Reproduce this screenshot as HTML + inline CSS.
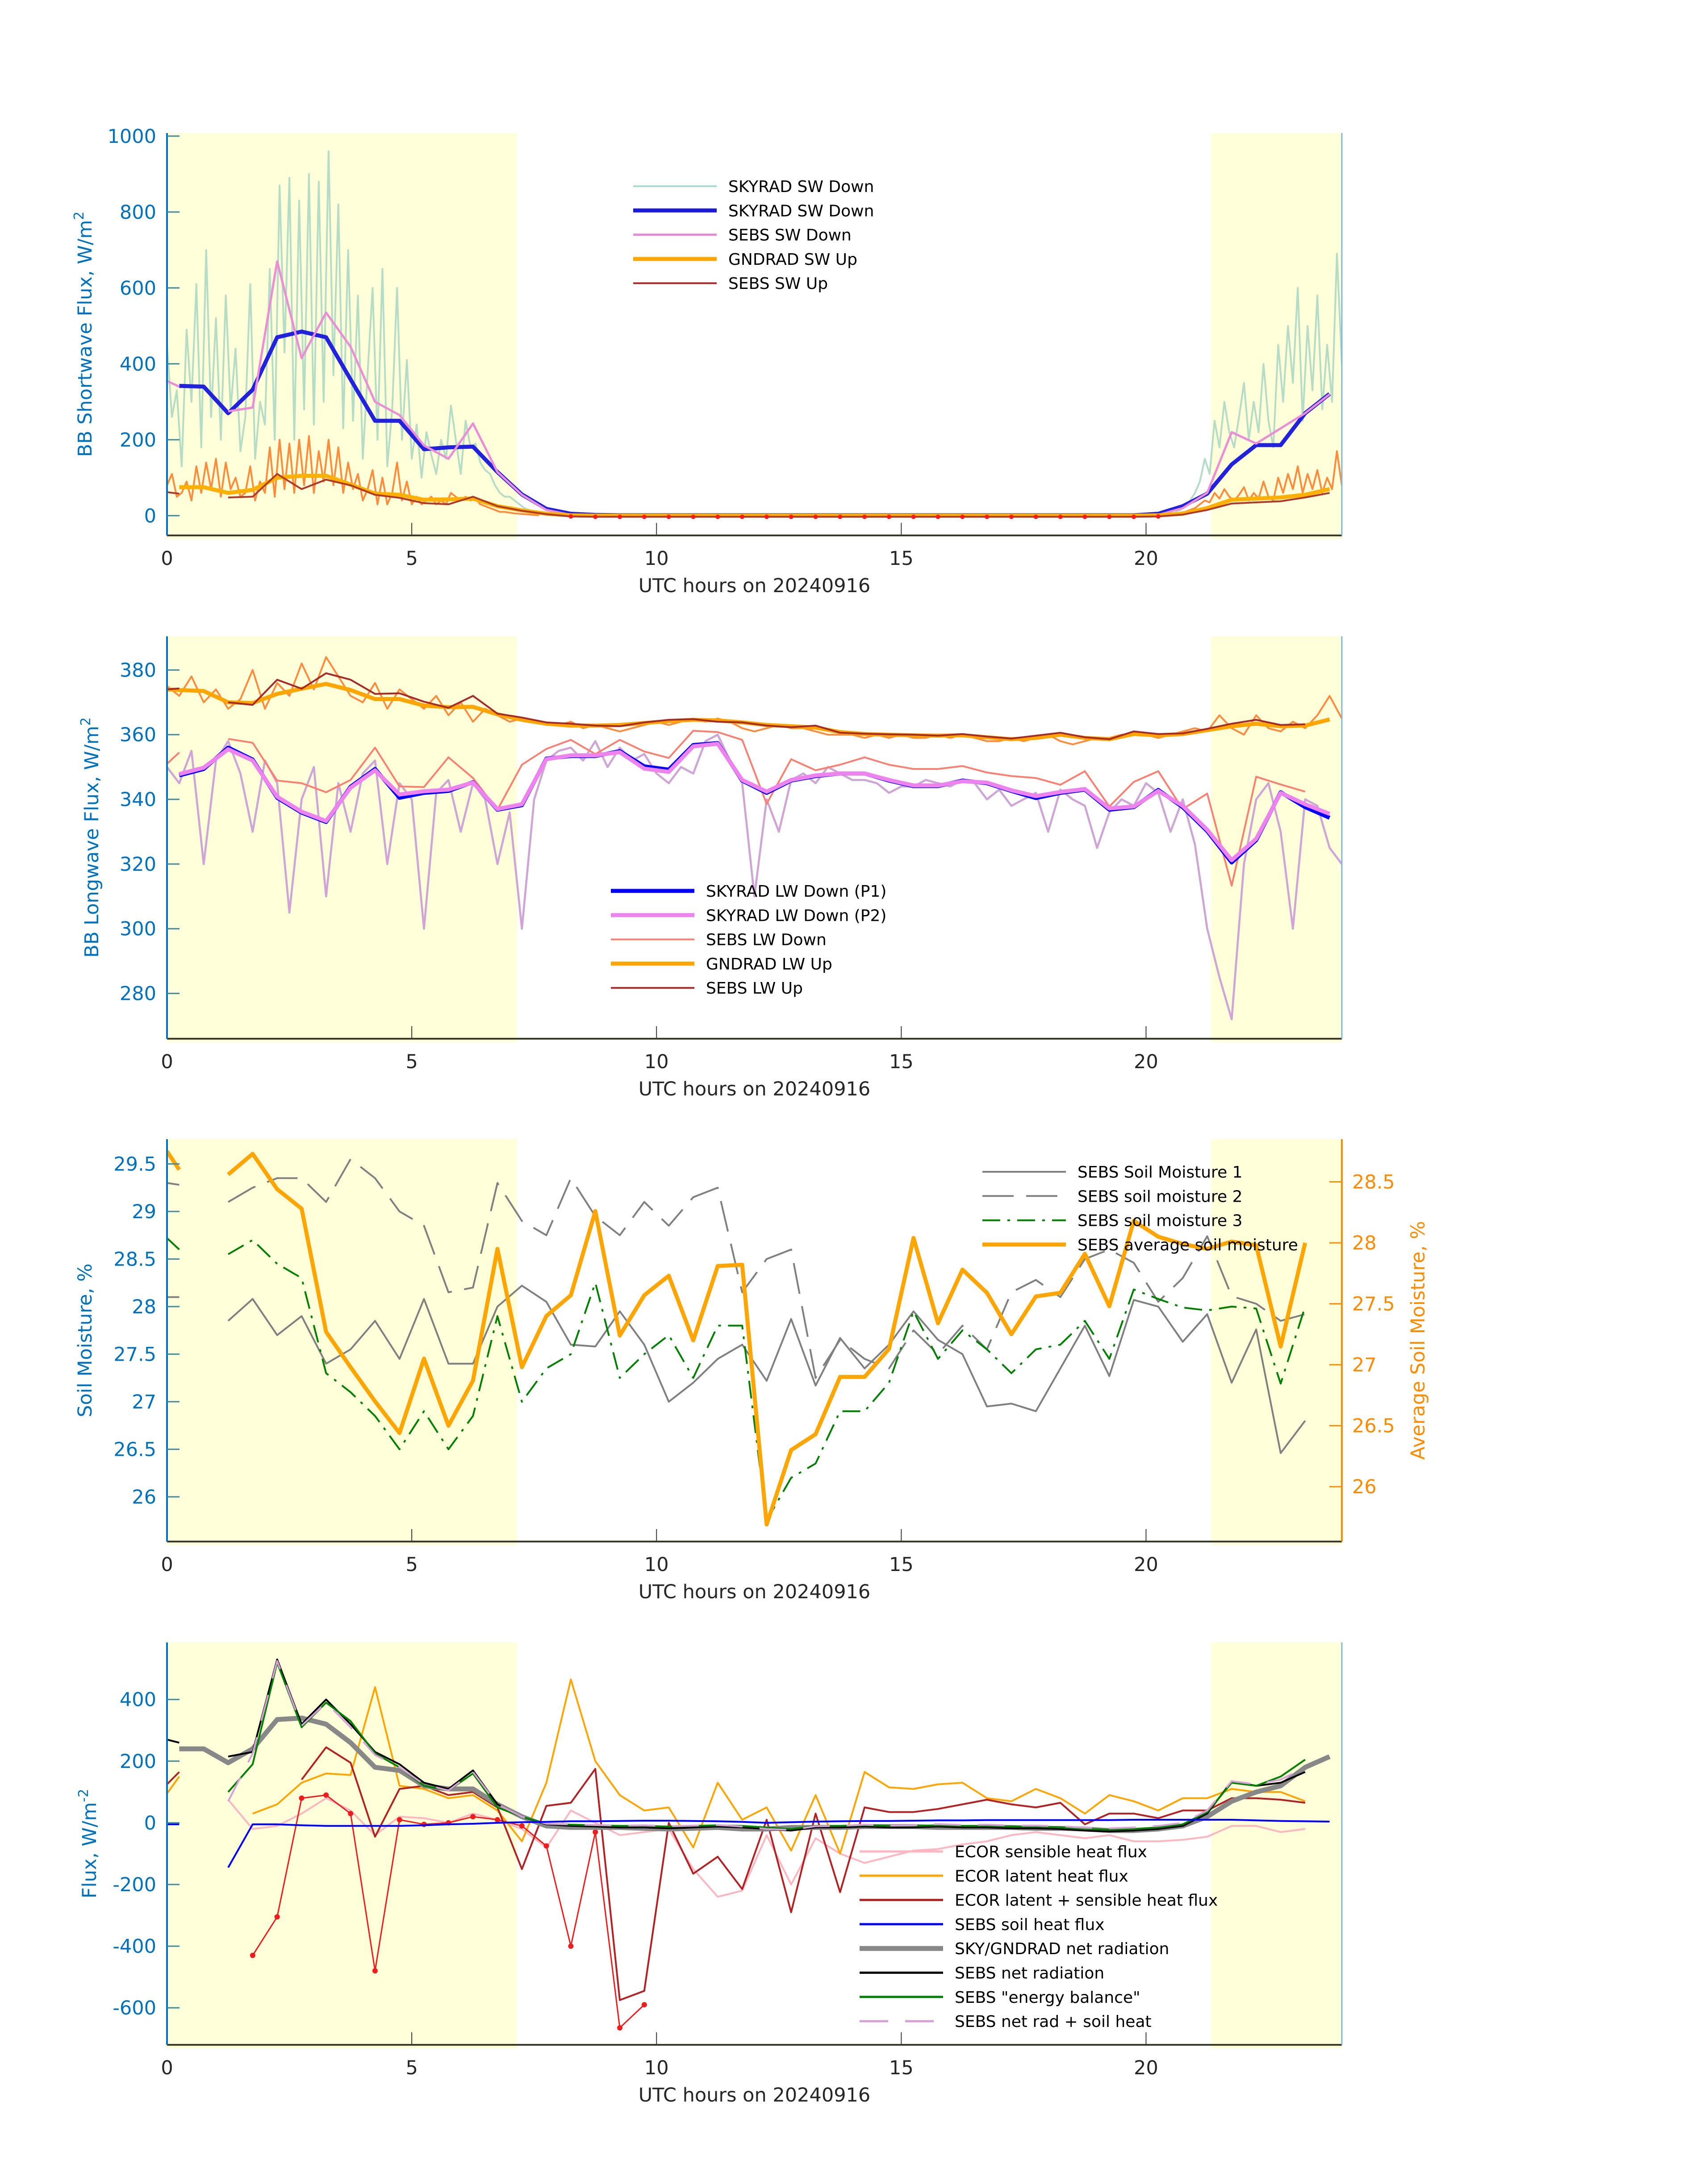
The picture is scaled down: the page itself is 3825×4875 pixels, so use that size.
<!DOCTYPE html>
<html><head><meta charset="utf-8">
<style>
html,body{margin:0;padding:0;background:#fff;}
svg{display:block;font-family:"DejaVu Sans","Liberation Sans",sans-serif;}
</style></head>
<body>
<svg id="fig" xmlns="http://www.w3.org/2000/svg" width="3825" height="4875" viewBox="0 0 3825 4875">
<rect x="0" y="0" width="3825" height="4875" fill="#ffffff"/>
</svg>
<script>
// ---------- shared time grid (hours) ----------
const HT = [0,0.25,0.75,1.25,1.75,2.25,2.75,3.25,3.75,4.25,4.75,5.25,5.75,6.25,6.75,7.25,7.75,8.25,8.75,9.25,9.75,10.25,10.75,11.25,11.75,12.25,12.75,13.25,13.75,14.25,14.75,15.25,15.75,16.25,16.75,17.25,17.75,18.25,18.75,19.25,19.75,20.25,20.75,21.25,21.75,22.25,22.75,23.25,23.75];
const X_TICKS = [0,5,10,15,20];
const X_TICK_LABELS = ["0","5","10","15","20"];
const DAY_SHADE = [[0,7.15],[21.33,24]];

// ---------- Panel 1: shortwave ----------
const P1_TICKS = [0,200,400,600,800,1000];
const swDown = [null,342,340,270,332,470,485,470,359,250,250,175,180,182,115,56,18,5,2,1,1,1,1,1,1,1,1,1,1,1,1,1,1,1,1,1,1,1,1,1,1,5,25,58,135,186,186,270,321];
const sebsSwDown = [355,340,null,275,285,670,415,535,445,300,265,185,150,243,115,55,15,2,1,1,1,1,1,1,1,1,1,1,1,1,1,1,1,1,1,1,1,1,1,1,1,2,20,60,220,190,230,270,320];
const gndSwUp = [null,75,75,60,68,100,105,105,82,58,55,42,43,45,25,14,5,1,0,0,0,0,0,0,0,0,0,0,0,0,0,0,0,0,0,0,0,0,0,0,0,1,5,20,42,45,48,55,70];
const sebsSwUp = [62,58,null,48,50,110,70,95,80,55,47,33,30,50,25,13,4,-2,-3,-3,-3,-3,-3,-3,-3,-3,-3,-3,-3,-3,-3,-3,-3,-3,-3,-3,-3,-3,-3,-3,-3,-2,3,15,32,35,38,48,60];
const hiSwEarly = [450,260,330,130,490,300,610,180,700,260,
 520,200,580,280,440,170,260,610,150,300,
 240,650,200,870,430,890,200,830,280,900,
 240,880,300,960,370,820,230,700,250,580,
 150,380,600,200,650,130,280,600,200,410,
 150,240,100,220,160,110,200,150,290,200,
 110,250,180,190,140,120,110,80,60,50,
 50,40,30,20,15,10,5];
const hiSwLate = [10,15,25,40,60,90,150,110,250,180,300,220,180,260,350,200,300,220,400,250,180,450,300,500,350,600,250,500,330,580,280,450,300,690,400];
const hiUpEarly = [80,110,50,60,90,40,130,60,140,70,
 150,50,140,70,100,50,60,130,40,90,
 60,180,50,200,70,190,60,200,80,210,
 60,170,90,200,80,180,60,140,70,110,
 40,70,120,30,100,30,60,140,40,90,
 30,50,30,40,50,30,40,30,60,50,
 40,50,40,45,30,25,20,15,10,10,
 8,6,5,4,3,2,1];
const hiUpLate = [5,8,10,15,20,30,40,35,60,45,70,50,40,55,75,40,60,45,90,50,40,100,60,110,70,130,60,110,70,120,60,100,70,170,80];
const hiEarlyT = hiSwEarly.map((v,i)=>i*0.1);
const hiLateT = hiSwLate.map((v,i)=>20.6+i*0.1);

// ---------- Panel 2: longwave ----------
const P2_TICKS = [280,300,320,340,360,380];
const lwP1 = [null,347.4,349.4,356,352.3,340.5,335.9,333,343.9,349.4,340.5,342,342.6,345.3,336.8,338.2,352.6,353.4,353.4,354.9,350.2,349.2,356.8,357.4,345.8,342,345.8,347.2,348,348,345.8,344.1,344.1,345.8,345,342.6,340.4,342,343,336.8,337.6,342.9,337.6,330.2,320.5,327.4,342.2,337.6,334.3];
const lwP2 = [null,347.8,349.8,355.5,352,340.8,336.2,333.3,343.6,349,341.5,342.5,343,345.2,337,338.5,352.4,353.6,353.6,354.6,349.5,348.5,356.4,357.2,346,342.4,346,347.4,348,348,346,344.3,344.3,345.6,345.2,342.8,341,342.3,343.2,337.2,337.8,342.6,338,330.6,321.2,327.8,342,338.5,335.5];
const sebsLwDown = [351,354.5,null,358.7,357.5,345.8,345,342.2,346,356,344,343.8,353,346.6,336.8,350.7,355.6,358.4,354,358.4,354.8,352.8,361.2,360.8,358.4,338.6,352.4,349,350.7,353,350.7,349.4,349.4,350.3,348.3,347.2,346.6,344.5,348.7,337.8,345.4,348.7,337,341.8,313.3,347,344.6,342.4,null];
const gndLwUp = [374,373.8,373.5,370,369.8,372.6,374.2,375.7,373.8,371,371,369,368.5,368.6,366.3,364.6,363.4,362.8,362.8,363,363.6,364.2,364.6,364.4,363.8,363,362.6,362.2,360.8,360.2,360,359.8,359.7,359.8,359.2,358.6,359,360,359,358.6,360.2,359.8,360.2,361.4,362.6,363.4,362.6,362.8,364.7];
const sebsLwUp = [374,374.3,null,370,369.2,377,374.2,379,377,372.6,372.8,370.2,368.3,372,366.5,365.3,363.8,363.4,362.8,362.6,363.8,364.6,364.8,364,363.8,362.8,362.3,362.8,360.6,360.3,360.1,360,359.7,360.2,359.4,358.8,359.7,360.6,359.2,358.6,361,360.2,360.4,361.8,363.4,364.6,363,363.2,null];
const hiLwDown = [350,345,355,320,352,358,348,330,352,345,305,340,350,310,345,330,
 348,352,320,345,340,300,342,346,330,345,340,320,336,300,340,352,
 355,356,352,358,350,356,352,354,348,345,350,348,358,360,352,345,
 310,340,330,346,348,345,350,348,346,346,345,342,344,344,346,345,
 344,346,345,340,343,338,340,342,330,343,340,338,325,336,340,338,
 345,342,330,340,326,300,285,272,320,340,345,330,300,340,338,325,
 320];
const hiLwUp = [375,372,378,370,374,368,371,380,368,376,372,382,374,384,378,372,
 370,376,368,374,371,368,372,366,370,364,368,366,364,365,364,363,
 363,364,362,363,362,361,362,363,364,363,364,365,364,365,364,362,
 361,362,363,362,362,361,360,360,360,359,360,359,360,359,359,360,
 359,360,359,358,358,359,358,359,360,358,357,358,359,359,360,360,
 360,359,360,361,362,361,366,362,360,366,362,361,364,362,366,372,
 365];
const hiLwT = hiLwDown.map((v,i)=>i*0.25);

// ---------- Panel 3: soil moisture ----------
const P3_TICKS = [26,26.5,27,27.5,28,28.5,29,29.5];
const P3_TICK_LABELS = ["26","26.5","27","27.5","28","28.5","29","29.5"];
const P3R_TICKS = [26,26.5,27,27.5,28,28.5];
const P3R_TICK_LABELS = ["26","26.5","27","27.5","28","28.5"];
const sm1 = [28.1,28.1,null,27.85,28.08,27.7,27.9,27.4,27.55,27.85,27.45,28.08,27.4,27.4,28.0,28.22,28.05,27.6,27.58,27.95,27.6,27.0,27.2,27.45,27.6,27.22,27.87,27.17,27.67,27.35,27.6,27.95,27.65,27.5,26.95,26.98,26.9,27.35,27.8,27.27,28.07,28.0,27.63,27.92,27.2,27.76,26.46,26.8,null];
const sm2 = [29.3,29.28,null,29.1,29.25,29.35,29.35,29.1,29.55,29.35,29.0,28.85,28.15,28.2,29.3,28.9,28.75,29.35,28.95,28.75,29.1,28.85,29.15,29.25,28.15,28.5,28.6,27.25,27.65,27.45,27.35,27.75,27.5,27.8,27.55,28.15,28.28,28.1,28.5,28.6,28.46,28.05,28.3,28.74,28.11,28.03,27.85,27.92,null];
const sm3 = [28.72,28.6,null,28.55,28.7,28.45,28.3,27.3,27.1,26.85,26.5,26.9,26.5,26.85,27.9,27.0,27.35,27.5,28.25,27.25,27.5,27.7,27.25,27.8,27.8,25.75,26.2,26.35,26.9,26.9,27.2,27.95,27.45,27.75,27.55,27.3,27.55,27.6,27.85,27.45,28.18,28.08,27.99,27.96,28.0,27.98,27.19,28.0,null];
const smAvg = [28.75,28.6,null,28.56,28.73,28.44,28.28,27.27,26.98,26.7,26.44,27.05,26.5,26.87,27.95,26.98,27.4,27.57,28.26,27.24,27.57,27.73,27.2,27.81,27.82,25.69,26.3,26.43,26.9,26.9,27.13,28.04,27.34,27.78,27.59,27.25,27.56,27.59,27.91,27.48,28.18,28.05,27.99,27.95,28.01,27.98,27.15,28.0,null];

// ---------- Panel 4: fluxes ----------
const P4_TICKS = [-600,-400,-200,0,200,400];
const sensHeat = [null,null,null,75,-20,-10,30,80,40,-40,20,15,0,30,10,-20,-80,40,0,-40,-30,-20,-150,-240,-220,-40,-200,-50,-100,-130,-110,-90,-85,-70,-60,-40,-30,-40,-50,-40,-60,-60,-55,-45,-10,-10,-30,-20,null];
const latHeat = [95,150,null,null,30,60,130,160,155,440,120,110,80,90,40,-60,130,465,200,90,40,50,-80,130,10,50,-90,90,-100,165,115,110,125,130,80,70,110,80,30,90,70,40,80,80,110,100,100,70,null];
const latSens = [125,165,null,null,null,null,140,245,195,-45,110,120,90,100,50,-150,55,65,175,-575,-545,0,-165,-110,-215,10,-290,30,-225,50,35,35,45,60,75,60,50,65,-5,30,30,15,40,40,80,80,75,65,null];
const residual = [null,null,null,null,-430,-305,80,90,30,-480,10,-5,0,20,10,-10,-75,-400,-30,-665,-590,null,null,null,null,null,null,null,null,null,null,null,null,null,null,null,null,null,null,null,null,null,null,null,null,null,null,null,null];
const soilHeat = [-5,-5,null,-145,-5,-5,-8,-10,-10,-10,-10,-8,-5,-3,0,2,3,5,5,6,7,7,6,5,3,0,2,4,5,6,6,7,8,8,9,9,9,9,9,9,10,10,10,10,10,8,6,5,4];
const netRadSky = [null,240,240,195,240,335,340,320,260,180,170,120,110,110,60,20,-10,-15,-15,-15,-18,-20,-18,-15,-20,-20,-15,-15,-15,-12,-12,-12,-15,-15,-15,-15,-18,-18,-20,-25,-25,-20,-10,20,70,100,120,180,215];
const netRadSebs = [270,260,null,215,230,530,320,400,320,230,190,130,110,170,60,20,-5,-10,-12,-15,-15,-18,-15,-12,-15,-20,-25,-15,-15,-12,-15,-15,-12,-15,-15,-18,-18,-20,-25,-28,-25,-20,-10,30,135,120,130,165,null];
const energyBal = [null,null,null,100,190,520,310,390,330,225,180,120,105,160,50,20,-3,-6,-8,-10,-10,-12,-10,-8,-10,-15,-20,-10,-10,-8,-10,-10,-8,-10,-10,-12,-12,-15,-20,-22,-20,-15,-5,35,130,120,150,205,null];
const netRadSoil = [null,null,null,70,225,525,315,390,310,220,180,125,105,165,60,20,-3,-5,-7,-9,-8,-11,-9,-7,-12,-20,-23,-11,-10,-6,-9,-8,-4,-7,-6,-9,-9,-11,-16,-18,-15,-10,0,40,135,125,140,180,null];

// ---------- layout ----------
const SVGNS = "http://www.w3.org/2000/svg";
const svg = document.getElementById('fig');
const AX_L = 374, AX_R = 3005, AX_W = AX_R - AX_L, AX_H = 901;
const TOPS = [298, 1425, 2551, 3678];
function mk(tag, attrs, parent){
  const e = document.createElementNS(SVGNS, tag);
  for (const k in attrs) e.setAttribute(k, attrs[k]);
  (parent || svg).appendChild(e);
  return e;
}
function xScale(t){ return AX_L + t/24*AX_W; }
function yScaleFor(top, lo, hi){ return v => top + (hi - v)/(hi - lo)*AX_H; }
function pathD(ts, vs, ys){
  let d = "", pen = false;
  for (let i=0;i<ts.length;i++){
    const v = vs[i];
    if (v === null || v === undefined){ pen = false; continue; }
    d += (pen ? "L" : "M") + xScale(ts[i]).toFixed(1) + " " + ys(v).toFixed(1) + " ";
    pen = true;
  }
  return d;
}
function series(g, name, ts, vs, ys, stroke, w, extra){
  const p = mk('path', Object.assign({d: pathD(ts, vs, ys), fill:'none', stroke: stroke, 'stroke-width': w, 'stroke-linejoin':'round'}, extra||{}), g);
  
  
  return p;
}
function panelBase(idx, name){
  const top = TOPS[idx];
  const g = mk('g', {});
  
  
  const clip = mk('clipPath', {id:'clip'+idx}, g);
  mk('rect', {x:AX_L, y:top, width:AX_W, height:AX_H}, clip);
  DAY_SHADE.forEach(s => {
    const r = mk('rect', {x:xScale(s[0]), y:top, width:xScale(s[1])-xScale(s[0]), height:AX_H+8, fill:'#ffffd9'}, g);
    
    
  });
  const data = mk('g', {'clip-path':'url(#clip'+idx+')'}, g);
  
  
  return {g, data, top};
}
function axes(P, ticks, labels, ys, leftColor, rightColor, ylabel, ylabelX){
  const g = P.g, top = P.top, bot = top + AX_H;
  // bottom spine & x ticks
  const xa = mk('line', {x1:AX_L, y1:bot, x2:AX_R, y2:bot, stroke:'#3a3a2a', 'stroke-width':4}, g);
  
  
  X_TICKS.forEach((t,i) => {
    mk('line', {x1:xScale(t), y1:bot, x2:xScale(t), y2:bot-28, stroke:'#3a3a3a', 'stroke-width':2}, g);
    const tl = mk('text', {x:xScale(t), y:bot+66, 'text-anchor':'middle', 'font-size':43, fill:'#262626'}, g);
    tl.textContent = X_TICK_LABELS[i];
    
    
  });
  const xl = mk('text', {x:(AX_L+AX_R)/2, y:bot+127, 'text-anchor':'middle', 'font-size':43, fill:'#262626'}, g);
  xl.textContent = 'UTC hours on 20240916';
  
  
  // left spine & ticks
  const ya = mk('line', {x1:AX_L, y1:top, x2:AX_L, y2:bot, stroke:leftColor, 'stroke-width':4}, g);
  
  
  ticks.forEach((v,i) => {
    mk('line', {x1:AX_L, y1:ys(v), x2:AX_L+28, y2:ys(v), stroke:'#3f8a9c', 'stroke-width':3}, g);
    const tl = mk('text', {x:350, y:ys(v)+15, 'text-anchor':'end', 'font-size':43, fill:leftColor}, g);
    tl.textContent = labels[i];
    
    
  });
  if (rightColor){
    const ra = mk('line', {x1:AX_R, y1:top, x2:AX_R, y2:bot, stroke:rightColor, 'stroke-width':3}, g);
    
    
  }
  const cy = top + AX_H/2;
  const yl = mk('text', {x:ylabelX, y:cy, 'text-anchor':'middle', 'font-size':43, fill:leftColor, transform:'rotate(-90 '+ylabelX+' '+cy+')'}, g);
  yl.innerHTML = ylabel;
  
  
}
function legend(P, x0, y0, entries){
  const lg = mk('g', {}, P.g);
  
  
  entries.forEach((e,i) => {
    const y = y0 + i*54.3;
    const eg = mk('g', {}, lg);
    
    
    const la = {x1:x0, y1:y, x2:x0+187, y2:y, stroke:e[1], 'stroke-width':e[2]};
    if (e[3]) la['stroke-dasharray'] = e[3];
    mk('line', la, eg);
    const t = mk('text', {x:x0+213, y:y+13, 'font-size':36, fill:'#000'}, eg);
    t.textContent = e[0];
  });
}
function nums(a){ return a.map(v=>String(v)); }

// ===== Panel 1 =====
(function(){
  const P = panelBase(0, 'shortwave-panel');
  const ys = yScaleFor(P.top, -52, 1008);
  series(P.data, 'skyrad-sw-down-hires', hiEarlyT, hiSwEarly, ys, '#b4dcc6', 4);
  series(P.data, 'skyrad-sw-down-hires-late', hiLateT, hiSwLate, ys, '#b4dcc6', 4);
  series(P.data, 'gndrad-sw-up-hires', hiEarlyT, hiUpEarly, ys, '#ff8c3c', 4);
  series(P.data, 'gndrad-sw-up-hires-late', hiLateT, hiUpLate, ys, '#ff8c3c', 4);
  series(P.data, 'skyrad-sw-down', HT, swDown, ys, '#2222dd', 9);
  series(P.data, 'sebs-sw-down', HT, sebsSwDown, ys, '#ec8ed6', 5);
  series(P.data, 'gndrad-sw-up', HT, gndSwUp, ys, '#ffb000', 9);
  series(P.data, 'sebs-sw-up', HT, sebsSwUp, ys, '#b03a2a', 4);
  HT.forEach((t,i) => {
    if (sebsSwUp[i] !== null && sebsSwUp[i] < 0){
      const c = mk('circle', {cx:xScale(t), cy:ys(sebsSwUp[i]), r:5, fill:'#ff1a1a'}, P.data);
      
      
    }
  });
  axes(P, P1_TICKS, nums(P1_TICKS), ys, '#0072bd', '#7fb8dc', 'BB Shortwave Flux, W/m<tspan dy="-18" font-size="30">2</tspan>', 205);
  legend(P, 1418, 417, [
    ['SKYRAD SW Down', '#a8dcd4', 4],
    ['SKYRAD SW Down', '#1a1ad8', 9],
    ['SEBS SW Down', '#e88ad8', 5],
    ['GNDRAD SW Up', '#ffa500', 9],
    ['SEBS SW Up', '#a52a2a', 4]
  ]);
})();

// ===== Panel 2 =====
(function(){
  const P = panelBase(1, 'longwave-panel');
  const ys = yScaleFor(P.top, 266, 390.4);
  series(P.data, 'skyrad-lw-down-hires-teal', hiLwT, hiLwDown, ys, '#a8dccf', 5);
  series(P.data, 'skyrad-lw-down-hires', hiLwT, hiLwDown, ys, '#d8a0d8', 4);
  series(P.data, 'gndrad-lw-up-hires', hiLwT, hiLwUp, ys, '#ff8c3c', 4);
  series(P.data, 'sebs-lw-down', HT, sebsLwDown, ys, '#fa8072', 4);
  series(P.data, 'skyrad-lw-down-p1', HT, lwP1, ys, '#0000ff', 9);
  series(P.data, 'skyrad-lw-down-p2', HT, lwP2, ys, '#ee82ee', 9);
  series(P.data, 'gndrad-lw-up', HT, gndLwUp, ys, '#ffa500', 9);
  series(P.data, 'sebs-lw-up', HT, sebsLwUp, ys, '#a52a2a', 4);
  axes(P, P2_TICKS, nums(P2_TICKS), ys, '#0072bd', '#7fb8dc', 'BB Longwave Flux, W/m<tspan dy="-18" font-size="30">2</tspan>', 220);
  legend(P, 1368, 1995, [
    ['SKYRAD LW Down (P1)', '#0000ff', 9],
    ['SKYRAD LW Down (P2)', '#ee82ee', 9],
    ['SEBS LW Down', '#fa8072', 4],
    ['GNDRAD LW Up', '#ffa500', 9],
    ['SEBS LW Up', '#a52a2a', 4]
  ]);
})();

// ===== Panel 3 =====
(function(){
  const P = panelBase(2, 'soil-moisture-panel');
  const ys = yScaleFor(P.top, 25.53, 29.76);
  const yr = yScaleFor(P.top, 25.55, 28.85);
  series(P.data, 'sebs-soil-moisture-1', HT, sm1, ys, '#808080', 4);
  series(P.data, 'sebs-soil-moisture-2', HT, sm2, ys, '#808080', 4, {'stroke-dasharray':'70 28'});
  series(P.data, 'sebs-soil-moisture-3', HT, sm3, ys, '#007f00', 4, {'stroke-dasharray':'40 16 6 16'});
  series(P.data, 'sebs-average-soil-moisture', HT, smAvg, yr, '#ffa500', 9);
  axes(P, P3_TICKS, P3_TICK_LABELS, ys, '#0072bd', null, 'Soil Moisture, %', 205);
  const g = P.g, top = P.top;
  mk('line', {x1:AX_R, y1:top, x2:AX_R, y2:top+AX_H, stroke:'#ff8c00', 'stroke-width':4}, g);
  P3R_TICKS.forEach((v,i) => {
    mk('line', {x1:AX_R, y1:yr(v), x2:AX_R-28, y2:yr(v), stroke:'#ff8c00', 'stroke-width':3}, g);
    const tl = mk('text', {x:3028, y:yr(v)+15, 'font-size':43, fill:'#ff8c00'}, g);
    tl.textContent = P3R_TICK_LABELS[i];
    
    
  });
  const cy = top + AX_H/2;
  const rl = mk('text', {x:3190, y:cy, 'text-anchor':'middle', 'font-size':43, fill:'#ff8c00', transform:'rotate(-90 3190 '+cy+')'}, g);
  rl.textContent = 'Average Soil Moisture, %';
  
  
  legend(P, 2200, 2624, [
    ['SEBS Soil Moisture 1', '#808080', 4],
    ['SEBS soil moisture 2', '#808080', 4, '70 28'],
    ['SEBS soil moisture 3', '#007f00', 4, '40 16 6 16'],
    ['SEBS average soil moisture', '#ffa500', 9]
  ]);
})();

// ===== Panel 4 =====
(function(){
  const P = panelBase(3, 'flux-panel');
  const ys = yScaleFor(P.top, -720, 585);
  series(P.data, 'ecor-sensible-heat-flux', HT, sensHeat, ys, '#ffb6c1', 4);
  series(P.data, 'ecor-latent-heat-flux', HT, latHeat, ys, '#ffa500', 4);
  series(P.data, 'flux-residual', HT, residual, ys, '#ee1c1c', 3);
  HT.forEach((t,i) => {
    if (residual[i] !== null){
      const c = mk('circle', {cx:xScale(t), cy:ys(residual[i]), r:6, fill:'#ee1c1c'}, P.data);
      
      
    }
  });
  series(P.data, 'ecor-latent-plus-sensible', HT, latSens, ys, '#b22222', 4);
  series(P.data, 'sky-gndrad-net-radiation', HT, netRadSky, ys, '#888888', 11);
  series(P.data, 'sebs-net-radiation', HT, netRadSebs, ys, '#000000', 4);
  series(P.data, 'sebs-energy-balance', HT, energyBal, ys, '#008000', 4);
  series(P.data, 'sebs-net-rad-plus-soil-heat', HT, netRadSoil, ys, '#d8a0d8', 4, {'stroke-dasharray':'60 38'});
  series(P.data, 'sebs-soil-heat-flux', HT, soilHeat, ys, '#0000ff', 4);
  axes(P, P4_TICKS, nums(P4_TICKS), ys, '#0072bd', '#7fb8dc', 'Flux, W/m<tspan dy="-18" font-size="30">-2</tspan>', 215);
  legend(P, 1925, 4146, [
    ['ECOR sensible heat flux', '#ffb6c1', 5],
    ['ECOR latent heat flux', '#ffa500', 5],
    ['ECOR latent + sensible heat flux', '#b22222', 5],
    ['SEBS soil heat flux', '#0000ff', 5],
    ['SKY/GNDRAD net radiation', '#888888', 11],
    ['SEBS net radiation', '#000000', 5],
    ['SEBS "energy balance"', '#008000', 5],
    ['SEBS net rad + soil heat', '#d8a0d8', 5, '64 38']
  ]);
})();
</script>
</body></html>
